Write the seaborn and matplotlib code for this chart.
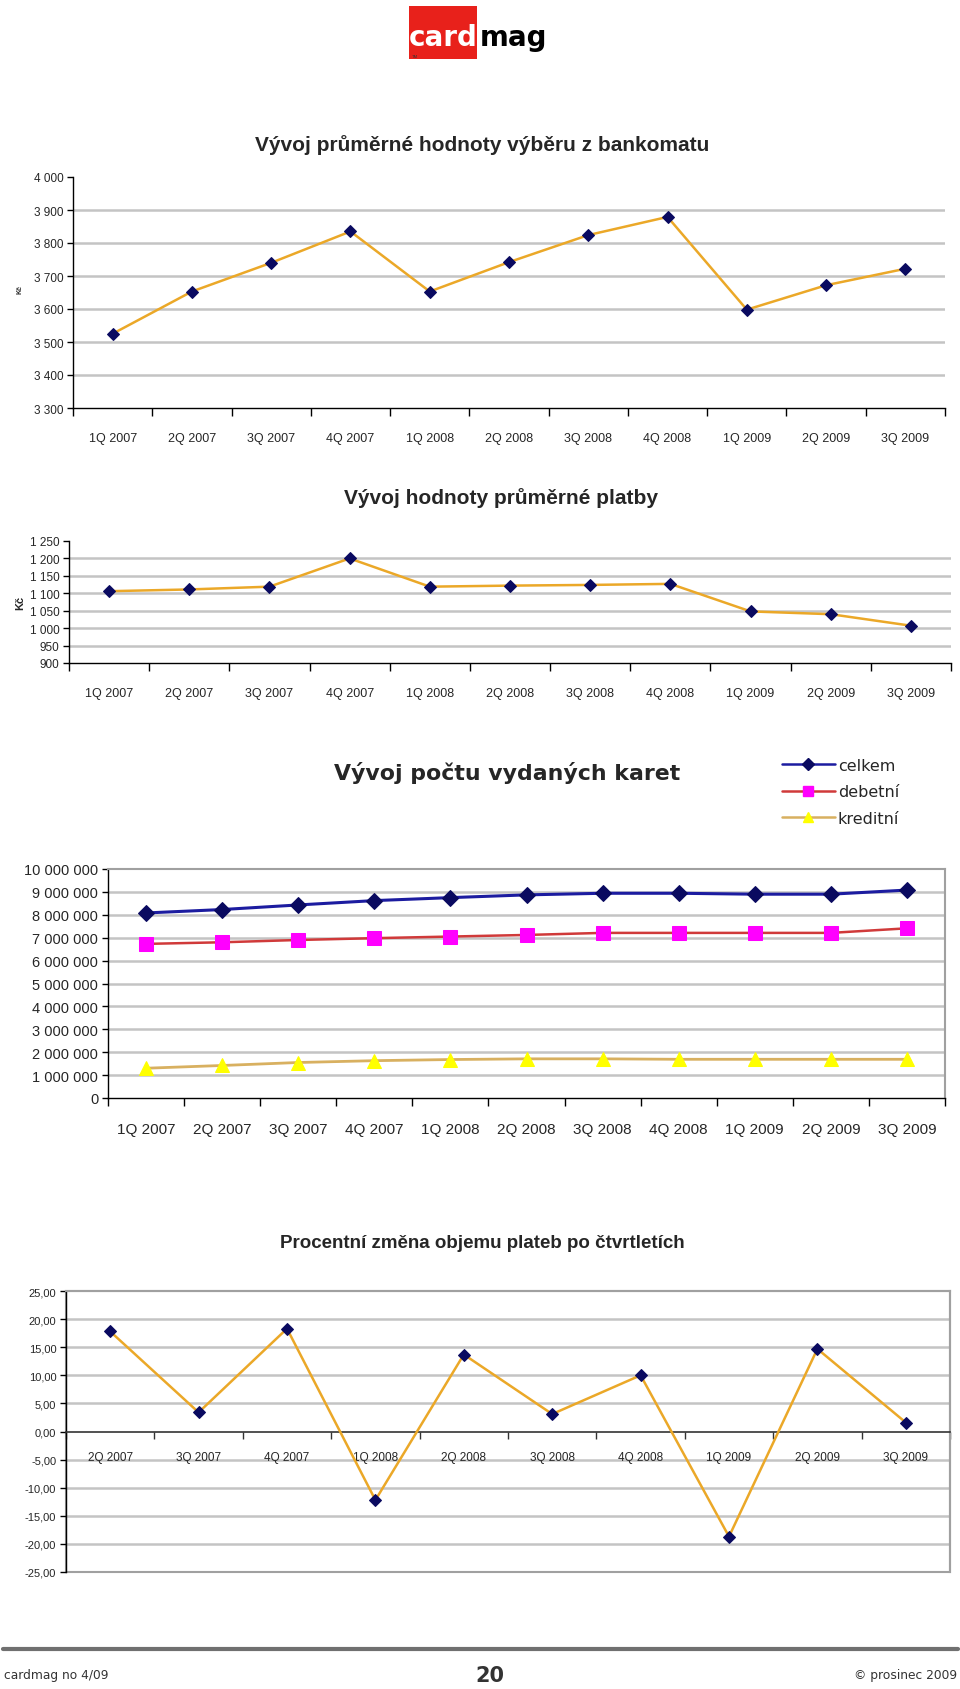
import numpy as np
import pandas as pd
import matplotlib
matplotlib.use("Agg")
import matplotlib.pyplot as plt
import seaborn as sns
from matplotlib import font_manager
from matplotlib.patches import Rectangle
from matplotlib.lines import Line2D
from matplotlib.ticker import FixedLocator, FuncFormatter

# ---------------- data ----------------
quarters = ["1Q 2007", "2Q 2007", "3Q 2007", "4Q 2007", "1Q 2008", "2Q 2008",
            "3Q 2008", "4Q 2008", "1Q 2009", "2Q 2009", "3Q 2009"]
atm_withdrawal = [3525, 3653, 3740, 3835, 3653, 3742, 3824, 3879, 3598, 3672, 3722]
avg_payment = [1106, 1111, 1119, 1200, 1119, 1122, 1124, 1127, 1048, 1040, 1007]
cards_total = [8.08e6, 8.23e6, 8.43e6, 8.62e6, 8.75e6, 8.87e6, 8.94e6, 8.94e6, 8.90e6, 8.90e6, 9.08e6]
cards_debit = [6.73e6, 6.80e6, 6.90e6, 6.98e6, 7.05e6, 7.12e6, 7.21e6, 7.21e6, 7.21e6, 7.21e6, 7.41e6]
cards_credit = [1.30e6, 1.42e6, 1.55e6, 1.63e6, 1.68e6, 1.71e6, 1.71e6, 1.69e6, 1.69e6, 1.69e6, 1.69e6]
change_quarters = quarters[1:]
pct_change = [17.8, 3.4, 18.3, -12.2, 13.7, 3.1, 10.0, -18.7, 14.7, 1.6]

series_names = ["celkem", "debetní", "kreditní"]

# ---------------- fonts ----------------
sns.set_style("white")
avail = {f.name for f in font_manager.fontManager.ttflist}
NARROW = "Liberation Sans Narrow" if "Liberation Sans Narrow" in avail else "Liberation Sans"
plt.rcParams["font.family"] = [NARROW, "DejaVu Sans"]
WIDE = ["DejaVu Sans"]

W, H = 960, 1690
fig = plt.figure(figsize=(W / 100, H / 100), dpi=100)
fig.patch.set_facecolor("white")


def rect(l, t, r, b):
    return [l / W, 1 - b / H, (r - l) / W, (b - t) / H]


def fx(x):
    return x / W


def fy(y):
    return 1 - y / H


GOLD = "#EBA828"
NAVY = "#0A0A60"
GRID = "#C4C4C4"


def space_fmt(v, pos=None):
    return f"{int(round(v)):,}".replace(",", " ")


def base_axes(ax, n, ylim, yticks, grid_vals, ylabsize, xlabsize):
    ax.set_xlim(-0.5, n - 0.5)
    ax.set_ylim(*ylim)
    ax.set_facecolor("white")
    for g in grid_vals:
        ax.axhline(g, color=GRID, lw=1.8, zorder=0)
    ax.yaxis.set_major_locator(FixedLocator(yticks))
    ax.tick_params(axis="y", which="major", direction="out", length=4, width=1,
                   color="black", labelsize=ylabsize, pad=3, left=True)
    ax.xaxis.set_major_locator(FixedLocator(np.arange(n)))
    ax.xaxis.set_minor_locator(FixedLocator(np.arange(n + 1) - 0.5))
    ax.tick_params(axis="x", which="major", length=0, labelsize=xlabsize)
    ax.tick_params(axis="x", which="minor", direction="out", length=6, width=1,
                   color="black", bottom=True)
    ax.set_xlabel("")
    ax.set_ylabel("")


# ---------------- logo ----------------
fig.add_artist(Rectangle((fx(409), fy(60)), (477 - 409) / W, (60 - 7) / H,
                         transform=fig.transFigure, facecolor="#E8211B",
                         edgecolor="none"))
fig.text(fx(409), fy(46), "card", color="white", fontsize=20, fontweight="bold",
         family=WIDE, ha="left", va="baseline")
fig.text(fx(480), fy(46), "mag", color="black", fontsize=20, fontweight="bold",
         family=WIDE, ha="left", va="baseline")
fig.text(fx(412), fy(58), "TM", color="#333333", fontsize=3, ha="left", va="baseline")

# ---------------- chart 1 ----------------
n = len(quarters)
df1 = pd.DataFrame({"q": quarters, "v": atm_withdrawal})
df1["pos"] = pd.Categorical(df1["q"], categories=quarters).codes
ax1 = fig.add_axes(rect(73, 178, 945, 409))
base_axes(ax1, n, (3300, 4000), np.arange(3300, 4001, 100),
          np.arange(3400, 3901, 100), 8.5, 9)
sns.lineplot(data=df1, x="pos", y="v", ax=ax1, color=GOLD, lw=1.8,
             marker="D", markersize=6.5, markerfacecolor=NAVY,
             markeredgecolor=NAVY, zorder=3)
ax1.set_xticklabels(quarters)
ax1.yaxis.set_major_formatter(FuncFormatter(space_fmt))
ax1.tick_params(axis="x", which="major", pad=17)
ax1.set_xlabel("")
ax1.set_ylabel("")
sns.despine(ax=ax1)
for s in ["left", "bottom"]:
    ax1.spines[s].set_color("black")
    ax1.spines[s].set_linewidth(1)
fig.text(fx(482), fy(145), "Vývoj průměrné hodnoty výběru z bankomatu",
         fontsize=15, fontweight="bold", ha="center", va="center")
fig.text(fx(20), fy(290), "Kč", fontsize=5, fontweight="bold", rotation=90,
         ha="center", va="center")

# ---------------- chart 2 ----------------
df2 = pd.DataFrame({"q": quarters, "v": avg_payment})
df2["pos"] = pd.Categorical(df2["q"], categories=quarters).codes
ax2 = fig.add_axes(rect(69, 542, 951, 664))
base_axes(ax2, n, (900, 1250), np.arange(900, 1251, 50),
          np.arange(950, 1201, 50), 8.5, 9)
sns.lineplot(data=df2, x="pos", y="v", ax=ax2, color=GOLD, lw=1.8,
             marker="D", markersize=6.5, markerfacecolor=NAVY,
             markeredgecolor=NAVY, zorder=3)
ax2.set_xticklabels(quarters)
ax2.yaxis.set_major_formatter(FuncFormatter(space_fmt))
ax2.tick_params(axis="x", which="major", pad=17)
ax2.set_xlabel("")
ax2.set_ylabel("")
sns.despine(ax=ax2)
for s in ["left", "bottom"]:
    ax2.spines[s].set_color("black")
    ax2.spines[s].set_linewidth(1)
fig.text(fx(501), fy(498), "Vývoj hodnoty průměrné platby",
         fontsize=15, fontweight="bold", ha="center", va="center")
fig.text(fx(20), fy(603), "Kč", fontsize=8, fontweight="bold", rotation=90,
         ha="center", va="center")

# ---------------- chart 3 ----------------
df3 = pd.DataFrame({"q": quarters * 3,
                    "v": cards_total + cards_debit + cards_credit,
                    "s": [series_names[0]] * n + [series_names[1]] * n + [series_names[2]] * n})
df3["pos"] = pd.Categorical(df3["q"], categories=quarters).codes
ax3 = fig.add_axes(rect(108, 870, 945, 1099))
base_axes(ax3, n, (0, 10e6), np.arange(0, 10e6 + 1, 1e6),
          np.arange(1e6, 9e6 + 1, 1e6), 10.5, 11)
styles = {
    "celkem": dict(color="#1C1CA0", lw=2.2, marker="D", markersize=8,
                   markerfacecolor="#0A0A60", markeredgecolor="#0A0A60"),
    "debetní": dict(color="#D03A3A", lw=1.8, marker="s", markersize=9.5,
                    markerfacecolor="#FF00FF", markeredgecolor="#FF00FF"),
    "kreditní": dict(color="#D8B060", lw=2.0, marker="^", markersize=9.5,
                     markerfacecolor="#FFFF00", markeredgecolor="#FFFF00"),
}
for name in series_names:
    sns.lineplot(data=df3[df3["s"] == name], x="pos", y="v", ax=ax3,
                 label=name, zorder=3, **styles[name])
ax3.set_xticklabels(quarters)
ax3.yaxis.set_major_formatter(FuncFormatter(space_fmt))
ax3.tick_params(axis="x", which="major", pad=17)
ax3.set_xlabel("")
ax3.set_ylabel("")
for s in ["left", "bottom"]:
    ax3.spines[s].set_color("black")
    ax3.spines[s].set_linewidth(1)
for s in ["top", "right"]:
    ax3.spines[s].set_color("#A0A0A0")
    ax3.spines[s].set_linewidth(1.5)
ax3.get_legend().remove()
handles = []
for nm in series_names:
    st = dict(styles[nm])
    st["markersize"] = st["markersize"] * 0.8
    st["lw"] = 1.8
    handles.append(Line2D([], [], **st))
leg = fig.legend(handles, series_names, loc="upper left",
                 bbox_to_anchor=(fx(782), fy(759)), frameon=False,
                 prop={"family": WIDE, "size": 11.5}, handlelength=3.3,
                 handletextpad=0.2, labelspacing=0.72, borderpad=0,
                 borderaxespad=0)
fig.text(fx(507), fy(773), "Vývoj počtu vydaných karet", family=WIDE,
         fontsize=15.8, fontweight="bold", ha="center", va="center")

# ---------------- chart 4 ----------------
m = len(change_quarters)
df4 = pd.DataFrame({"q": change_quarters, "v": pct_change})
df4["pos"] = pd.Categorical(df4["q"], categories=change_quarters).codes
ax4 = fig.add_axes(rect(66, 1292, 950, 1573))
base_axes(ax4, m, (-25, 25), np.arange(-25, 26, 5),
          [g for g in np.arange(-20, 21, 5) if g != 0], 8, 8.5)
sns.lineplot(data=df4, x="pos", y="v", ax=ax4, color=GOLD, lw=1.8,
             marker="D", markersize=6.5, markerfacecolor=NAVY,
             markeredgecolor=NAVY, zorder=3)
ax4.set_xticklabels(change_quarters)
ax4.yaxis.set_major_formatter(FuncFormatter(lambda v, p: f"{v:.2f}".replace(".", ",")))
ax4.spines["bottom"].set_position(("data", 0))
ax4.spines["bottom"].set_color("#333333")
ax4.spines["bottom"].set_linewidth(1.2)
ax4.spines["left"].set_color("black")
ax4.spines["left"].set_linewidth(1)
for s in ["top", "right"]:
    ax4.spines[s].set_color("#A0A0A0")
    ax4.spines[s].set_linewidth(1.5)
ax4.add_patch(Rectangle((0, 0), 1, 1, transform=ax4.transAxes, fill=False,
                        edgecolor="#A0A0A0", lw=1.5, zorder=0, clip_on=False))
ax4.tick_params(axis="x", which="major", pad=14)
ax4.tick_params(axis="x", which="minor", length=5, color="#333333")
ax4.set_xlabel("")
ax4.set_ylabel("")
fig.text(fx(482), fy(1243), "Procentní změna objemu plateb po čtvrtletích",
         fontsize=13.5, fontweight="bold", ha="center", va="center")

# ---------------- footer ----------------
fig.add_artist(Line2D([fx(3), fx(958)], [fy(1650), fy(1650)],
                      transform=fig.transFigure, color="#707070", lw=3))
fig.text(fx(4), fy(1676), "cardmag no 4/09", family=WIDE, fontsize=8.8,
         color="#333333", ha="left", va="center")
fig.text(fx(490), fy(1676), "20", family=WIDE, fontsize=15, fontweight="bold",
         color="#333333", ha="center", va="center")
fig.text(fx(957), fy(1676), "© prosinec 2009", family=WIDE, fontsize=8.8,
         color="#333333", ha="right", va="center")

fig.savefig("out.png", dpi=100, facecolor="white")
